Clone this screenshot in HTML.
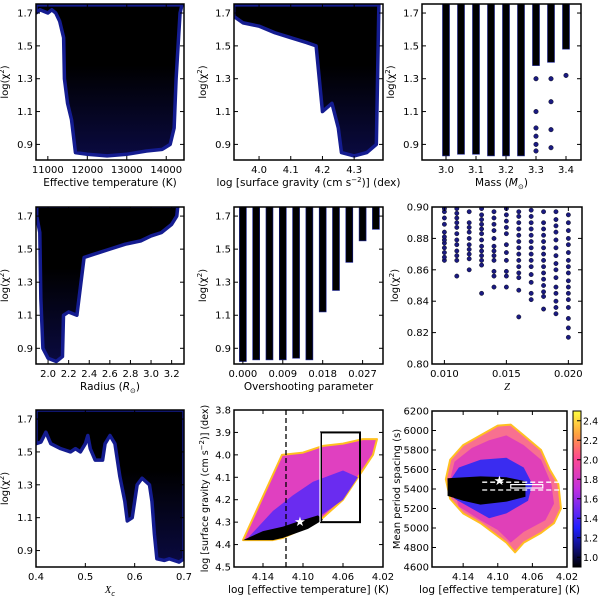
<!DOCTYPE html>
<html><head><meta charset="utf-8"><style>
body{margin:0;background:#fff;width:600px;height:596px;overflow:hidden}
svg{display:block}
text{font-family:"DejaVu Sans","Liberation Sans",sans-serif;fill:#000}
</style></head><body>
<svg id="fig" width="600" height="596" xmlns="http://www.w3.org/2000/svg">
<defs>
<linearGradient id="blob" x1="0" y1="0" x2="0" y2="1"><stop offset="0.4" stop-color="#000"/><stop offset="1" stop-color="#0a0a40"/></linearGradient>
<linearGradient id="cbar" x1="0" y1="1" x2="0" y2="0"><stop offset="0" stop-color="#000"/><stop offset="0.25" stop-color="#2020ff"/><stop offset="0.5" stop-color="#c030e0"/><stop offset="0.7" stop-color="#ff4a90"/><stop offset="0.85" stop-color="#ffa040"/><stop offset="1" stop-color="#ffff40"/></linearGradient>
</defs>
</svg>
<script>
// ---- data ----
const chiTicks=[0.9,1.1,1.3,1.5,1.7];
const p1Ticks=[11000,12000,13000,14000];
const p1Env=[[10700,1.75],[10700,1.70],[10800,1.72],[11000,1.70],[11100,1.72],[11200,1.70],[11300,1.65],[11400,1.55],[11420,1.30],[11500,1.15],[11600,1.05],[11650,0.95],[11700,0.85],[12000,0.84],[12500,0.83],[13000,0.84],[13500,0.86],[13900,0.87],[14100,0.90],[14200,1.00],[14250,1.30],[14300,1.50],[14350,1.70],[14400,1.75]];
const p2Ticks=[4.0,4.1,4.2,4.3];
const p2Env=[[3.92,1.75],[3.92,1.68],[3.95,1.64],[4.0,1.62],[4.05,1.58],[4.1,1.55],[4.15,1.52],[4.18,1.5],[4.19,1.3],[4.2,1.1],[4.23,1.15],[4.25,1.0],[4.26,0.85],[4.3,0.83],[4.34,0.85],[4.37,0.9],[4.378,1.75]];
const p3Ticks=[3.0,3.1,3.2,3.3,3.4];
const p3Mass=[3.00,3.05,3.10,3.15,3.20,3.25,3.30,3.35,3.40];
const p3Bottom=[0.83,0.84,0.84,0.83,0.83,0.83,1.38,1.40,1.48];
const p3Extra=[[3.30,1.3],[3.30,1.1],[3.30,1.0],[3.30,0.95],[3.30,0.9],[3.30,0.86],[3.35,1.3],[3.35,1.16],[3.35,0.99],[3.35,0.88],[3.40,1.32]];
const p4Ticks=[2.0,2.2,2.4,2.6,2.8,3.0,3.2];
const p4Env=[[1.89,1.76],[1.89,1.7],[1.92,1.6],[1.93,1.2],[1.95,0.9],[2.0,0.84],[2.08,0.82],[2.14,0.85],[2.15,1.1],[2.2,1.12],[2.28,1.1],[2.32,1.3],[2.35,1.45],[2.45,1.47],[2.6,1.5],[2.75,1.53],[2.9,1.55],[3.0,1.58],[3.1,1.6],[3.2,1.65],[3.25,1.7],[3.26,1.76]];
const p5Ticks=[0.000,0.009,0.018,0.027];
const p5Ov=[0,0.003,0.006,0.009,0.012,0.015,0.018,0.021,0.024,0.027,0.030];
const p5Bottom=[0.82,0.83,0.83,0.83,0.84,0.83,1.12,1.25,1.42,1.55,1.62];
const p6XTicks=[0.010,0.015,0.020];
const p6YTicks=[0.80,0.82,0.84,0.86,0.88,0.90];
const p6Z=[0.010,0.011,0.012,0.013,0.014,0.015,0.016,0.017,0.018,0.019,0.020];
const p6Vals=[
[0.866,0.868,0.871,0.874,0.877,0.879,0.881,0.884,0.889,0.893,0.897,0.899],
[0.856,0.866,0.869,0.872,0.876,0.879,0.883,0.887,0.890,0.893,0.896,0.899],
[0.860,0.867,0.870,0.873,0.876,0.880,0.884,0.887,0.890,0.897],
[0.845,0.863,0.866,0.869,0.872,0.875,0.879,0.883,0.886,0.889,0.892,0.895,0.899],
[0.849,0.856,0.859,0.866,0.869,0.872,0.875,0.880,0.885,0.889,0.893,0.897],
[0.849,0.856,0.859,0.866,0.871,0.876,0.883,0.887,0.891,0.895,0.899],
[0.830,0.847,0.855,0.858,0.862,0.866,0.870,0.874,0.878,0.882,0.886,0.890,0.894,0.897],
[0.841,0.845,0.852,0.857,0.862,0.866,0.870,0.874,0.878,0.882,0.886,0.890,0.894,0.898],
[0.835,0.843,0.846,0.850,0.854,0.858,0.862,0.866,0.870,0.874,0.878,0.882,0.886,0.890,0.897],
[0.832,0.836,0.840,0.845,0.849,0.855,0.860,0.864,0.869,0.874,0.879,0.884,0.888,0.892,0.897],
[0.817,0.823,0.829,0.836,0.841,0.845,0.849,0.853,0.858,0.862,0.866,0.871,0.876,0.880,0.885,0.890,0.895]];
const p7Ticks=[0.4,0.5,0.6,0.7];
const p7Env=[[0.4,1.755],[0.4,1.55],[0.41,1.56],[0.42,1.62],[0.43,1.55],[0.45,1.52],[0.47,1.5],[0.48,1.52],[0.49,1.5],[0.5,1.55],[0.505,1.6],[0.51,1.52],[0.52,1.45],[0.535,1.45],[0.54,1.55],[0.55,1.6],[0.56,1.55],[0.57,1.35],[0.58,1.2],[0.585,1.08],[0.595,1.1],[0.6,1.2],[0.605,1.3],[0.615,1.34],[0.63,1.3],[0.635,1.2],[0.64,1.0],[0.645,0.85],[0.66,0.84],[0.67,0.85],[0.69,0.83],[0.7,0.85],[0.7,1.755]];
const p8XTicks=[4.14,4.10,4.06,4.02];
const p8YTicks=[3.8,3.9,4.0,4.1,4.2,4.3,4.4,4.5];
const p8Outer=[[4.16,4.38],[4.121,4.0],[4.10,3.99],[4.08,3.96],[4.06,3.95],[4.04,3.93],[4.026,3.93],[4.03,4.0],[4.045,4.1],[4.06,4.2],[4.08,4.28],[4.10,4.33],[4.12,4.37],[4.13,4.38]];
const p8Blue=[[4.155,4.37],[4.13,4.25],[4.11,4.18],[4.09,4.12],[4.06,4.07],[4.045,4.10],[4.06,4.2],[4.085,4.28],[4.11,4.34]];
const p8Black=[[4.16,4.38],[4.14,4.34],[4.12,4.32],[4.10,4.29],[4.085,4.27],[4.08,4.29],[4.095,4.33],[4.12,4.37],[4.13,4.38]];
const p8Box=[4.082,4.043,3.90,4.30];
const p8Dash=4.117;
const p8Star=[4.103,4.30];
const p9XTicks=[4.14,4.10,4.06,4.02];
const p9YTicks=[4600,4800,5000,5200,5400,5600,5800,6000,6200];
const p9Outer=[[4.16,5500],[4.155,5700],[4.14,5850],[4.12,5950],[4.10,6050],[4.085,6060],[4.07,5950],[4.05,5800],[4.04,5600],[4.03,5450],[4.027,5200],[4.035,5050],[4.05,4950],[4.07,4850],[4.08,4750],[4.09,4850],[4.105,4950],[4.12,5050],[4.14,5150],[4.155,5300]];
const p9Mid=[[4.155,5500],[4.15,5680],[4.13,5820],[4.11,5900],[4.09,5950],[4.07,5850],[4.05,5700],[4.038,5450],[4.035,5250],[4.045,5080],[4.07,4960],[4.085,4850],[4.10,4980],[4.12,5080],[4.145,5220]];
const p9Blue=[[4.158,5450],[4.145,5620],[4.12,5700],[4.09,5720],[4.07,5620],[4.06,5450],[4.065,5280],[4.09,5150],[4.11,5100],[4.13,5200],[4.15,5300]];
const p9Black=[[4.158,5330],[4.158,5510],[4.12,5530],[4.09,5520],[4.068,5480],[4.068,5320],[4.09,5270],[4.12,5240],[4.14,5280]];
const p9Dash=[5470,5390];
const p9Star=[4.098,5480];
const cbTicks=[1.0,1.2,1.4,1.6,1.8,2.0,2.2,2.4];

const NS='http://www.w3.org/2000/svg';
const svg=document.getElementById('fig');
function el(tag,attrs,parent){const e=document.createElementNS(NS,tag);for(const k in attrs)e.setAttribute(k,attrs[k]);(parent||svg).appendChild(e);return e;}
function lin(d0,d1,r0,r1){return v=>r0+(v-d0)/(d1-d0)*(r1-r0);}
function panel(o){
  const g=el('g',{});
  
  
  const X=lin(o.xd[0],o.xd[1],o.L,o.R),Y=lin(o.yd[0],o.yd[1],o.B,o.T);
  const clip='c'+o.name;
  const cp=el('clipPath',{id:clip},g);el('rect',{x:o.L,y:o.T,width:o.R-o.L,height:o.B-o.T},cp);
  const dg=el('g',{'clip-path':'url(#'+clip+')'},g);
  
  
  o.draw(dg,X,Y);
  const fr=el('rect',{x:o.L,y:o.T,width:o.R-o.L,height:o.B-o.T,fill:'none',stroke:'#000','stroke-width':1.5},g);
  
  
  o.xt.forEach(v=>{const x=X(v);
    el('line',{x1:x,x2:x,y1:o.B,y2:o.B-4,stroke:'#000'},g);el('line',{x1:x,x2:x,y1:o.T,y2:o.T+4,stroke:'#000'},g);
    const t=el('text',{x:x,y:o.B+13,'font-size':10,'text-anchor':'middle'},g);t.textContent=o.xf(v);
    
    });
  o.yt.forEach(v=>{const y=Y(v);
    el('line',{x1:o.L,x2:o.L+4,y1:y,y2:y,stroke:'#000'},g);el('line',{x1:o.R,x2:o.R-4,y1:y,y2:y,stroke:'#000'},g);
    const t=el('text',{x:o.L-3,y:y+3.5,'font-size':10,'text-anchor':'end'},g);t.textContent=o.yf(v);
    
    });
  const xl=el('text',{x:(o.L+o.R)/2,y:o.B+26,'font-size':10.5,'text-anchor':'middle'},g);xl.innerHTML=o.xl;
  
  
  const yx=o.L-(o.ylOff||28),yy=(o.T+o.B)/2;
  const yl=el('text',{x:yx,y:yy,'font-size':o.ylSize||10,'text-anchor':'middle',transform:`rotate(-90 ${yx} ${yy})`},g);yl.innerHTML=o.yl;
  
  
  return {X,Y,g};
}
function env(g,X,Y,pts){
  const p=el('polygon',{points:pts.map(q=>X(q[0])+','+Y(q[1])).join(' '),fill:'url(#blob)',stroke:'#141c90','stroke-width':3.5,'stroke-linejoin':'round'},g);
  
  
}
function dot(g,x,y,r){const c=el('circle',{cx:x,cy:y,r:r||2.3,fill:'#1a1a80',stroke:'#000','stroke-width':0.4},g);
  
  }
function poly(g,X,Y,pts,fill,stroke,sw,name){const p=el('polygon',{points:pts.map(q=>X(q[0])+','+Y(q[1])).join(' '),fill:fill,stroke:stroke||'none','stroke-width':sw||0,'stroke-linejoin':'round'},g);
  
  }
const f1=v=>v.toFixed(1),f0=v=>String(v),f2=v=>v.toFixed(2),f3=v=>v.toFixed(3);
const chiY=[0.805,1.755];
const chiLab='log(χ<tspan font-size="7" dy="-4">2</tspan><tspan dy="4">)</tspan>';

panel({name:'panel-teff',L:36,R:184,T:4,B:160,xd:[10700,14450],yd:chiY,xt:p1Ticks,yt:chiTicks,xf:f0,yf:f1,xl:'Effective temperature (K)',yl:chiLab,
 draw:(g,X,Y)=>env(g,X,Y,p1Env)});
panel({name:'panel-logg',L:234,R:383,T:4,B:160,xd:[3.921,4.391],yd:chiY,xt:p2Ticks,yt:chiTicks,xf:f1,yf:f1,xl:'log [surface gravity (cm s<tspan font-size="7" dy="-4">−2</tspan><tspan dy="4">)] (dex)</tspan>',yl:chiLab,
 draw:(g,X,Y)=>env(g,X,Y,p2Env)});
panel({name:'panel-mass',L:422,R:581,T:4,B:160,xd:[2.92,3.45],yd:chiY,xt:p3Ticks,yt:chiTicks,xf:f1,yf:f1,xl:'Mass (<tspan font-style="italic">M</tspan><tspan font-size="7" dy="3">⊙</tspan><tspan dy="-3">)</tspan>',yl:chiLab,
 draw:(g,X,Y)=>{p3Mass.forEach((m,i)=>{const r=el('rect',{x:X(m)-3.5,y:Y(1.8),width:7,height:Y(p3Bottom[i])-Y(1.8),fill:'#000',stroke:'#141c90','stroke-width':0.6},g);
   
   });
   p3Extra.forEach(q=>dot(g,X(q[0]),Y(q[1])));}});
panel({name:'panel-radius',L:36,R:184,T:207,B:364,xd:[1.883,3.32],yd:chiY,xt:p4Ticks,yt:chiTicks,xf:f1,yf:f1,xl:'Radius (<tspan font-style="italic">R</tspan><tspan font-size="7" dy="3">⊙</tspan><tspan dy="-3">)</tspan>',yl:chiLab,
 draw:(g,X,Y)=>env(g,X,Y,p4Env)});
panel({name:'panel-overshoot',L:234,R:383,T:207,B:364,xd:[-0.0020,0.0316],yd:chiY,xt:p5Ticks,yt:chiTicks,xf:f3,yf:f1,xl:'Overshooting parameter',yl:chiLab,
 draw:(g,X,Y)=>{p5Ov.forEach((m,i)=>{const r=el('rect',{x:X(m)-3.5,y:Y(1.8),width:7,height:Y(p5Bottom[i])-Y(1.8),fill:'#000',stroke:'#141c90','stroke-width':0.6},g);
   
   });}});
panel({name:'panel-z',L:432,R:582,T:207,B:364,xd:[0.0090,0.0211],yd:[0.80,0.90],xt:p6XTicks,yt:p6YTicks,xf:f3,yf:f2,xl:'<tspan font-style="italic" font-family="Liberation Serif">Z</tspan>',yl:chiLab,ylOff:34,
 draw:(g,X,Y)=>{p6Z.forEach((z,i)=>p6Vals[i].forEach(v=>dot(g,X(z),Y(v),2.2)));}});
panel({name:'panel-xc',L:36,R:184,T:410,B:567,xd:[0.4,0.7],yd:[0.80,1.755],xt:p7Ticks,yt:chiTicks,xf:f1,yf:f1,xl:'<tspan font-style="italic" font-family="Liberation Serif">X</tspan><tspan font-size="7" dy="3" font-style="italic">c</tspan>',yl:chiLab,
 draw:(g,X,Y)=>env(g,X,Y,p7Env)});
panel({name:'panel-kiel',L:234,R:383,T:410,B:567,xd:[4.169,4.02],yd:[4.5,3.8],xt:p8XTicks,yt:p8YTicks,xf:f2,yf:f1,xl:'log [effective temperature] (K)',yl:'log [surface gravity (cm s<tspan font-size="7" dy="-4">−2</tspan><tspan dy="4">)] (dex)</tspan>',ylOff:26,ylSize:9.5,
 draw:(g,X,Y)=>{poly(g,X,Y,p8Outer,'#e040c0','#ffc020',2,'kiel-region');poly(g,X,Y,p8Blue,'#6a2cf0','none',0,'kiel-blue-band');poly(g,X,Y,p8Black,'#000','none',0,'kiel-black-band');
   const d=el('line',{x1:X(p8Dash),x2:X(p8Dash),y1:Y(3.8),y2:Y(4.5),stroke:'#000','stroke-width':1.3,'stroke-dasharray':'5 3'},g);
   
   
   const b=el('rect',{x:X(p8Box[0]),y:Y(p8Box[2]),width:X(p8Box[1])-X(p8Box[0]),height:Y(p8Box[3])-Y(p8Box[2]),fill:'none',stroke:'#000','stroke-width':2},g);
   
   
   el('line',{x1:X(p8Box[0])-1,x2:X(p8Box[0])-1,y1:Y(p8Box[2]),y2:Y(p8Box[3]),stroke:'#fff','stroke-width':1.2},g);
   const s=el('text',{x:X(p8Star[0]),y:Y(p8Star[1])+4,'font-size':13,'text-anchor':'middle',style:'fill:#fff'},g);s.textContent='★';
   
   }});
panel({name:'panel-period-spacing',L:432,R:567,T:411,B:567,xd:[4.176,4.02],yd:[4600,6200],xt:p9XTicks,yt:p9YTicks,xf:f2,yf:f0,xl:'log [effective temperature] (K)',yl:'Mean period spacing (s)',ylOff:32,
 draw:(g,X,Y)=>{poly(g,X,Y,p9Outer,'#f87090','#ffc020',2,'ps-region');poly(g,X,Y,p9Mid,'#e040b8','none',0,'ps-magenta');poly(g,X,Y,p9Blue,'#3a2cf0','none',0,'ps-blue');poly(g,X,Y,p9Black,'#000','none',0,'ps-black');
   p9Dash.forEach((v,i)=>{const l=el('line',{x1:X(4.118),x2:X(4.02),y1:Y(v),y2:Y(v),stroke:'#fff','stroke-width':1.3,'stroke-dasharray':'5 3'},g);
     
     });
   const b=el('rect',{x:X(4.085),y:Y(5445),width:X(4.048)-X(4.085),height:Y(5410)-Y(5445),fill:'none',stroke:'#fff','stroke-width':1.2},g);
   
   
   const s=el('text',{x:X(p9Star[0]),y:Y(p9Star[1])+4,'font-size':13,'text-anchor':'middle',style:'fill:#fff'},g);s.textContent='★';
   
   }});
// colorbar
const cb=el('g',{});


el('rect',{x:573,y:411,width:8,height:156,fill:'url(#cbar)',stroke:'#000','stroke-width':1},cb);
const CY=lin(0.9,2.5,567,411);
cbTicks.forEach(v=>{el('line',{x1:577,x2:581,y1:CY(v),y2:CY(v),stroke:'#000'},cb);
  const t=el('text',{x:583,y:CY(v)+3.5,'font-size':9.5},cb);t.textContent=v.toFixed(1);
  
  });
</script>
</body></html>
